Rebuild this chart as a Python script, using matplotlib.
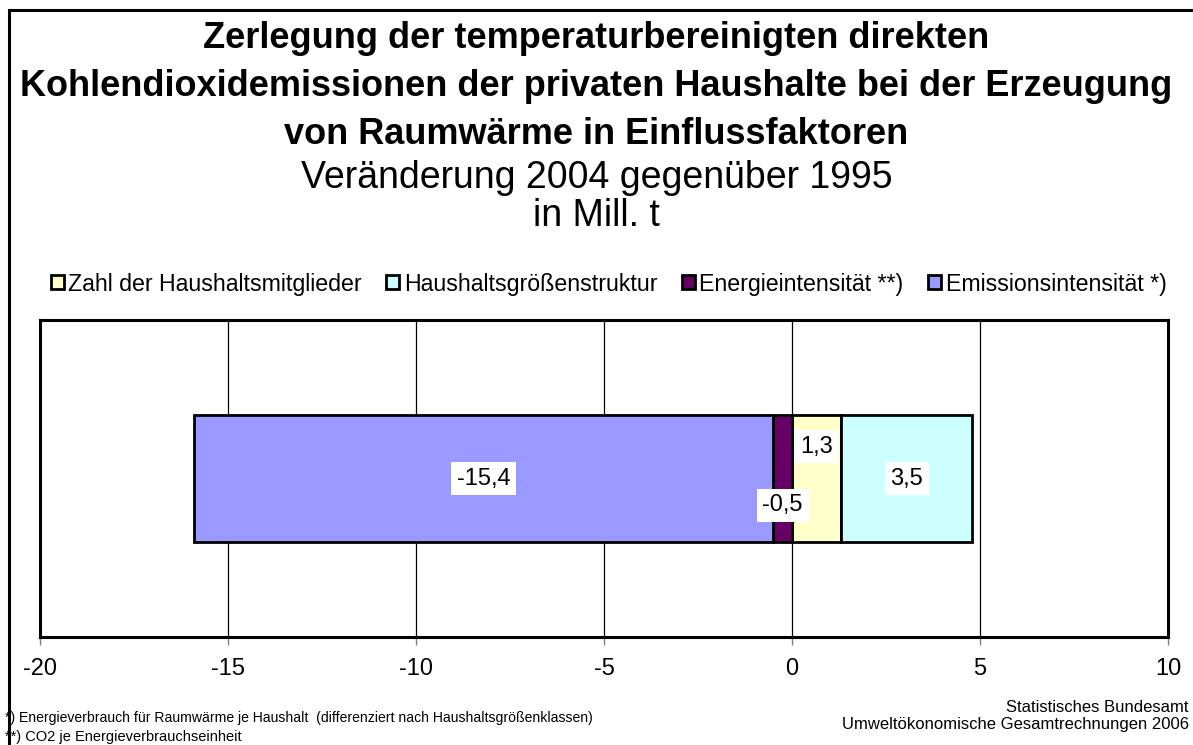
import numpy as np
import matplotlib
matplotlib.use("Agg")
import matplotlib.pyplot as plt
from matplotlib.lines import Line2D

plt.rcParams['font.family'] = ['Liberation Sans', 'DejaVu Sans']

# Daten: Veränderung 2004 gegenüber 1995 in Mill. t
faktoren = ["Zahl der Haushaltsmitglieder", "Haushaltsgrößenstruktur",
            "Energieintensität **)", "Emissionsintensität *)"]
werte = [1.3, 3.5, -0.5, -15.4]
farben = ["#FFFFCC", "#CCFFFF", "#660066", "#9999FF"]
beschriftung = ["1,3", "3,5", "-0,5", "-15,4"]
label_dy = [0.1, 0.0, -0.085, 0.0]
xticks = [-20, -15, -10, -5, 0, 5, 10]

fig = plt.figure(figsize=(11.93, 7.45), dpi=100)
ax = fig.add_axes([40/1193, 1-637/745, 1128/1193, 317/745])

pos = 0.0
neg = 0.0
for name, w, c, txt, dy in zip(faktoren, werte, farben, beschriftung, label_dy):
    if w >= 0:
        start = pos
        pos += w
    else:
        start = neg
        neg += w
    ax.barh(0, w, left=start, height=0.4, color=c, edgecolor="black",
            linewidth=2, label=name, zorder=3)
    ax.text(start + w/2, dy, txt, ha="center", va="center", fontsize=17,
            zorder=5, bbox=dict(facecolor="white", edgecolor="none", pad=4))

ax.set_xlim(-20, 10)
ax.set_ylim(-0.5, 0.5)
ax.set_xticks(xticks)
ax.set_xticklabels([str(t) for t in xticks], fontsize=17)
ax.set_yticks([])
ax.tick_params(axis="x", length=6, width=1, color="#808080", pad=9)
ax.grid(axis="x", color="black", linewidth=0.9, zorder=0)
for s in ax.spines.values():
    s.set_linewidth(2.2)

leg = fig.legend(loc="center", bbox_to_anchor=(0.5 + 12/1193, 1-284/745), ncol=4,
                 fontsize=16.7, frameon=False, handlelength=0.56,
                 handleheight=0.56, handletextpad=0.2, columnspacing=1.05)

fig.text(0.5, 1-38/745, "Zerlegung der temperaturbereinigten direkten",
         ha="center", va="center", fontsize=26, fontweight="bold")
fig.text(0.5, 1-87/745, "Kohlendioxidemissionen der privaten Haushalte bei der Erzeugung",
         ha="center", va="center", fontsize=26, fontweight="bold")
fig.text(0.5, 1-134/745, "von Raumwärme in Einflussfaktoren",
         ha="center", va="center", fontsize=26, fontweight="bold")
fig.text(0.5, 1-178/745, "Veränderung 2004 gegenüber 1995",
         ha="center", va="center", fontsize=27)
fig.text(0.5, 1-216/745, "in Mill. t",
         ha="center", va="center", fontsize=27)

fig.text(5/1193, 1-718/745,
         "*) Energieverbrauch für Raumwärme je Haushalt  (differenziert nach Haushaltsgrößenklassen)",
         ha="left", va="center", fontsize=10.1)
fig.text(5/1193, 1-737/745, "**) CO2 je Energieverbrauchseinheit",
         ha="left", va="center", fontsize=10.5)
fig.text(1189/1193, 1-707/745, "Statistisches Bundesamt",
         ha="right", va="center", fontsize=12)
fig.text(1189/1193, 1-725/745, "Umweltökonomische Gesamtrechnungen 2006",
         ha="right", va="center", fontsize=12)

# Rahmen um das Diagramm
fig.add_artist(Line2D([9/1193, 9/1193], [0, 1-10/745], color="black", linewidth=2.2))
fig.add_artist(Line2D([9/1193, 1], [1-10/745, 1-10/745], color="black", linewidth=2.2))

fig.savefig("out.png", dpi=100, facecolor="white")
